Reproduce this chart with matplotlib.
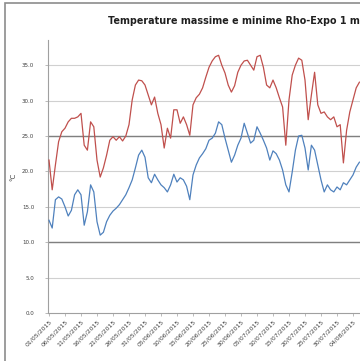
import matplotlib
matplotlib.use("Agg")
import matplotlib.pyplot as plt
from matplotlib.patches import Rectangle
import pandas as pd
import numpy as np

title = "Temperature massime e minime Rho-Expo 1 maggio - 31 ottobre 2015"
start_date = "2015-05-01"

tmax = [21.6, 17.4, 20.9, 24.2, 25.6, 26.1, 27.0, 27.5, 27.5, 27.7,
        28.2, 23.7, 23.0, 27.0, 26.3, 21.6, 19.2, 20.5, 22.3, 24.4,
        24.9, 24.4, 24.9, 24.3, 25.0, 26.6, 30.1, 32.2, 32.9, 32.8,
        32.2, 30.8, 29.4, 30.5, 28.2, 26.6, 23.3, 26.1, 24.7, 28.7,
        28.7, 26.8, 27.7, 26.6, 25.1, 29.4, 30.4, 30.9, 31.8, 33.3,
        34.7, 35.6, 36.2, 36.4, 35.0, 33.9, 32.2, 31.2, 32.1, 34.0,
        35.0, 35.6, 35.7, 35.0, 34.3, 36.2, 36.4, 34.7, 32.2, 31.8,
        32.9, 31.8, 30.4, 29.1, 23.7, 30.1, 33.6, 35.0, 36.0, 35.7,
        32.9, 27.3, 30.8, 34.0, 29.4, 28.2, 28.4, 27.7, 27.3, 27.7,
        26.3, 26.6, 21.2, 25.8, 28.4, 30.1, 31.8, 32.6]

tmin = [13.1, 12.0, 16.0, 16.4, 16.1, 15.0, 13.7, 14.5, 16.7, 17.4,
        16.7, 12.4, 14.3, 18.1, 17.1, 12.9, 11.0, 11.4, 12.9, 13.8,
        14.4, 14.8, 15.3, 16.0, 16.7, 17.7, 18.8, 20.5, 22.3, 23.0,
        22.0, 19.1, 18.4, 19.6, 18.8, 18.1, 17.7, 17.1, 18.1, 19.6,
        18.5, 19.1, 18.8, 17.9, 16.0, 19.5, 20.9, 21.9, 22.5, 23.2,
        24.4, 24.7, 25.4, 27.0, 26.6, 24.7, 23.0, 21.3, 22.3, 23.7,
        24.7, 26.8, 25.4, 24.0, 24.4, 26.3, 25.4, 24.4, 23.3, 21.6,
        22.9, 22.5, 21.6, 20.2, 18.1, 17.1, 19.9, 23.0, 25.0, 25.1,
        23.3, 20.2, 23.7, 23.0, 20.9, 18.8, 17.1, 18.1, 17.4, 17.1,
        17.8, 17.4, 18.4, 18.1, 18.8, 19.5, 20.6, 21.3]

yticks = [0, 5, 10, 15, 20, 25, 30, 35]
ref_levels = [10, 25]
label_step = 5

dates = pd.date_range(start_date, periods=len(tmax), freq="D")
x = np.arange(len(tmax))

W, H = 360, 361
fig = plt.figure(figsize=(W / 100, H / 100), dpi=100)
fig.patch.set_facecolor("white")

ax = fig.add_axes([48 / W, 1 - 313 / H, 1 - 48 / W, (313 - 40) / H])
ax.set_xlim(-1 / 3.2, (360 - 49) / 3.2)
ax.set_ylim(0, (313 - 40) / 7.08)

ax.set_yticks(yticks)
ax.set_yticklabels([f"{v:.1f}" for v in yticks], fontsize=4, color="#404040")
for v in yticks:
    if v == 0:
        continue
    ax.axhline(v, color="#d0d0d0", lw=0.8, zorder=0)
for v in ref_levels:
    ax.axhline(v, color="#808080", lw=1.0, zorder=1)

ax.plot(x, tmax, color="#c0504d", lw=0.9, zorder=3)
ax.plot(x, tmin, color="#4f81bd", lw=0.9, zorder=3)

tick_idx = x[::label_step]
ax.set_xticks(tick_idx)
ax.set_xticklabels([dates[i].strftime("%d/%m/%Y") for i in tick_idx],
                   rotation=45, ha="right", rotation_mode="anchor",
                   fontsize=4.4, color="#404040")
ax.tick_params(axis="x", length=2, width=0.5, color="#a0a0a0", pad=2)
ax.tick_params(axis="y", length=2, width=0.5, color="#a0a0a0", pad=8)

for s in ["top", "right"]:
    ax.spines[s].set_visible(False)
for s in ["left", "bottom"]:
    ax.spines[s].set_color("#a0a0a0")
    ax.spines[s].set_linewidth(0.8)

ax.set_ylabel("°C", fontsize=5, color="#404040", labelpad=4)

fig.text(108 / W, 1 - 21 / H, title, ha="left", va="center",
         fontsize=6.9, fontweight="bold", color="#202020")

fig.add_artist(Rectangle((5 / W, -0.1), 1.5, (H - 3) / H + 0.1,
                         transform=fig.transFigure, fill=False,
                         ec="#8c8c8c", lw=1.2))

fig.savefig("out.png", dpi=100)
